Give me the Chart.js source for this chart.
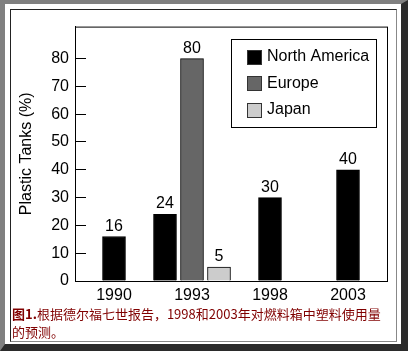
<!DOCTYPE html>
<html>
<head>
<meta charset="utf-8">
<script src="https://cdn.jsdelivr.net/npm/chart.js@4/dist/chart.umd.min.js"></script>
<style>
  html, body { margin: 0; padding: 0; }
  #frame {
    position: absolute; left: 0; top: 0;
    width: 408px; height: 351px; box-sizing: border-box;
    background: #fff;
    border-top: 4px solid #808080; border-left: 5px solid #808080;
    border-right: 7px solid #2b2b2b; border-bottom: 7px solid #2b2b2b;
  }
  #panel {
    position: absolute; left: 10px; top: 9px;
    width: 387px; height: 333px; box-sizing: border-box;
    border-top: 1px solid #222; border-left: 1px solid #222;
    border-right: 1px solid #888; border-bottom: 1px solid #888;
  }
  #myChart { position: absolute; left: 0; top: 0; }
  #caption {
    position: absolute; left: 12px; top: 305px;
    font: 13px "Noto Sans CJK SC", sans-serif; line-height: 18px;
    color: #800000; white-space: nowrap;
  }
</style>
</head>
<body>
<div id="frame"></div>
<div id="panel"></div>
<canvas id="myChart" width="408" height="351"></canvas>
<div id="caption"><b>图1.</b>根据德尔福七世报告，1998和2003年对燃料箱中塑料使用量<br>的预测。</div>
<script>
// data
var years = ["1990", "1993", "1998", "2003"];
var northAmerica = [16, 24, 30, 40];
var europe = [null, 80, null, null];
var japan = [null, 5, null, null];
var yTicks = [0, 10, 20, 30, 40, 50, 60, 70, 80];

var FONT = "Liberation Sans";

// box round the plot area
var plotBox = {
  id: "plotBox",
  afterDraw: function (chart) {
    var a = chart.chartArea, c = chart.ctx;
    c.save();
    c.strokeStyle = "#000";
    c.lineWidth = 1;
    c.strokeRect(a.left + 0.5, a.top + 0.5, a.right - a.left, a.bottom - a.top);
    c.restore();
  },
};

// numbers above the bars
var barLabels = {
  id: "barLabels",
  afterDatasetsDraw: function (chart) {
    var c = chart.ctx;
    c.save();
    c.font = "16px " + FONT;
    c.fillStyle = "#000";
    c.textAlign = "center";
    c.textBaseline = "alphabetic";
    chart.data.datasets.forEach(function (ds, i) {
      chart.getDatasetMeta(i).data.forEach(function (bar, j) {
        if (ds.data[j] == null) return;
        c.fillText(ds.data[j], bar.x, bar.y - 6);
      });
    });
    c.restore();
  },
};

// legend box inside the plot
var boxLegend = {
  id: "boxLegend",
  afterDraw: function (chart) {
    var c = chart.ctx;
    c.save();
    c.strokeStyle = "#000";
    c.lineWidth = 1;
    c.strokeRect(231.5, 39.5, 145, 88);
    c.font = "16px " + FONT;
    c.textBaseline = "middle";
    c.textAlign = "left";
    chart.data.datasets.forEach(function (ds, i) {
      var cy = 57 + i * 26.5;
      c.fillStyle = ds.backgroundColor;
      c.fillRect(247, Math.round(cy - 7.5), 15, 15);
      c.strokeStyle = "#333";
      c.strokeRect(247.5, Math.round(cy - 7.5) + 0.5, 14, 14);
      c.fillStyle = "#000";
      c.fillText(ds.label, 267, cy);
    });
    c.restore();
  },
};

var ctx = document.getElementById("myChart").getContext("2d");
var myChart = new Chart(ctx, {
  type: "bar",
  data: {
    labels: years,
    datasets: [
      { label: "North America", data: northAmerica, backgroundColor: "#000000" },
      { label: "Europe", data: europe, backgroundColor: "#666666" },
      { label: "Japan", data: japan, backgroundColor: "#cccccc" },
    ],
  },
  options: {
    responsive: false,
    animation: false,
    devicePixelRatio: 1,
    layout: { padding: { top: 19, right: 21, bottom: 0, left: 0 } },
    datasets: {
      bar: {
        skipNull: true,
        barThickness: 27,
        maxBarThickness: 23,
        borderColor: "#000",
        borderWidth: 1,
      },
    },
    scales: {
      x: {
        offset: true,
        grid: { display: false, drawTicks: false },
        border: { display: true, color: "#000", width: 1 },
        ticks: { color: "#000", font: { family: FONT, size: 16 }, padding: 5, maxRotation: 0 },
        afterFit: function (s) { s.height = 70; },
      },
      y: {
        min: 0,
        max: 91.5,
        afterBuildTicks: function (s) {
          s.ticks = yTicks.map(function (v) { return { value: v }; });
        },
        grid: { drawOnChartArea: false, drawTicks: true, tickLength: -11, color: "#000" },
        border: { display: true, color: "#000", width: 1 },
        ticks: { color: "#000", font: { family: FONT, size: 16 }, padding: 17 },
        title: {
          display: true,
          text: "Plastic Tanks (%)",
          color: "#000",
          font: { family: FONT, size: 16 },
          padding: { top: 17, bottom: 0 },
        },
        afterFit: function (s) { s.width = 75; },
      },
    },
    plugins: {
      legend: { display: false },
      tooltip: { enabled: false },
    },
  },
  plugins: [plotBox, barLabels, boxLegend],
});
</script>
</body>
</html>
